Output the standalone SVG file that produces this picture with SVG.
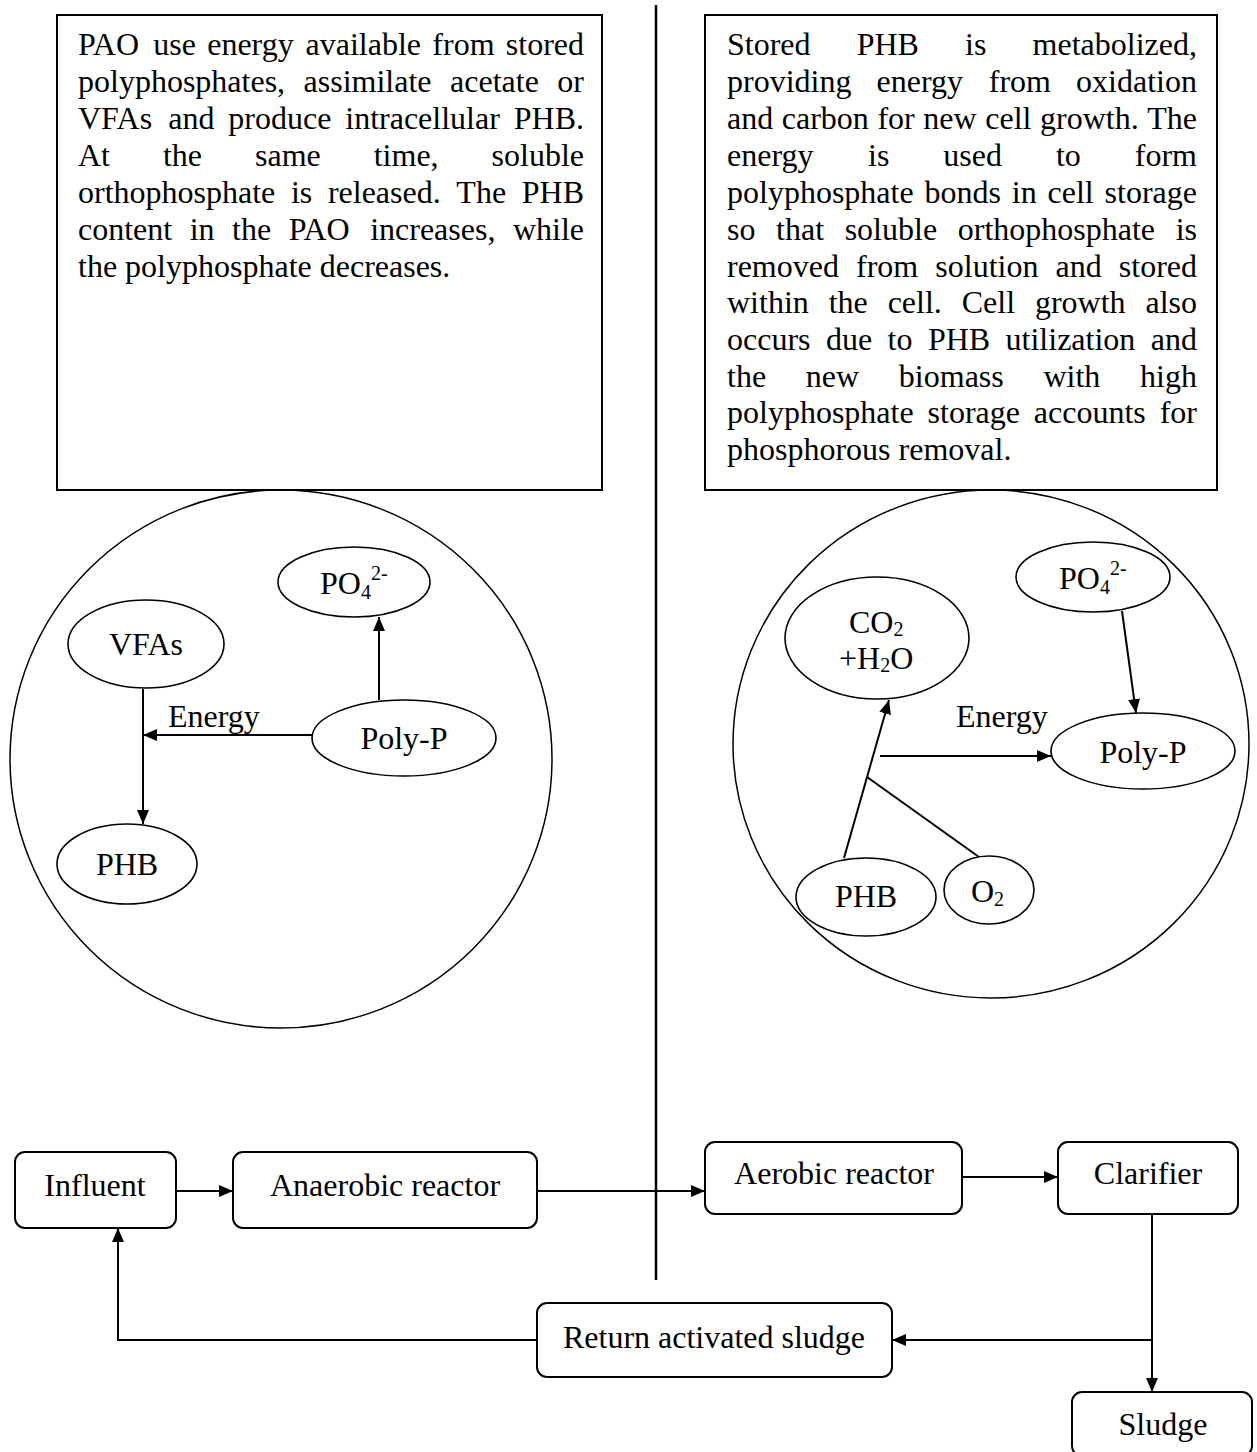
<svg xmlns="http://www.w3.org/2000/svg" width="1257" height="1452" viewBox="0 0 1257 1452">
<style>
text{font-family:"Liberation Serif","Times New Roman",serif;font-size:32px;fill:#000}
.c{text-anchor:middle}
.box{fill:#fff;stroke:#000;stroke-width:2}
.node{fill:#fff;stroke:#000;stroke-width:1.6}
.cell{fill:none;stroke:#000;stroke-width:1.5}
.ln{fill:none;stroke:#000;stroke-width:2}
.sm{font-size:20px}
</style>
<defs>
<marker id="arr" markerWidth="14" markerHeight="12" refX="14" refY="6" orient="auto" markerUnits="userSpaceOnUse"><path d="M0,0 L14,6 L0,12 z" fill="#000"/></marker>
</defs>
<rect width="1257" height="1452" fill="#fff"/>
<line x1="656" y1="5" x2="656" y2="1280" stroke="#000" stroke-width="2.5"/>
<g id="text-anaerobic">
<rect class="box" x="57" y="15" width="545" height="475"/>
<text y="55"><tspan x="78">PAO</tspan><tspan x="153.27">use</tspan><tspan x="207.2">energy</tspan><tspan x="305.54">available</tspan><tspan x="432.33">from</tspan><tspan x="505.81">stored</tspan></text>
<text y="92"><tspan x="78">polyphosphates,</tspan><tspan x="303.57">assimilate</tspan><tspan x="450.04">acetate</tspan><tspan x="557.34">or</tspan></text>
<text y="129"><tspan x="78">VFAs</tspan><tspan x="168.3">and</tspan><tspan x="228.36">produce</tspan><tspan x="345.28">intracellular</tspan><tspan x="513.75">PHB.</tspan></text>
<text y="166"><tspan x="78">At</tspan><tspan x="162.95">the</tspan><tspan x="255">same</tspan><tspan x="373.71">time,</tspan><tspan x="491.56">soluble</tspan></text>
<text y="203"><tspan x="78">orthophosphate</tspan><tspan x="290.94">is</tspan><tspan x="327.91">released.</tspan><tspan x="456.37">The</tspan><tspan x="521.76">PHB</tspan></text>
<text y="240"><tspan x="78">content</tspan><tspan x="189.69">in</tspan><tspan x="232.07">the</tspan><tspan x="288.65">PAO</tspan><tspan x="370.13">increases,</tspan><tspan x="512.89">while</tspan></text>
<text x="78" y="277">the polyphosphate decreases.</text>
</g>
<g id="text-aerobic">
<rect class="box" x="705" y="15" width="512" height="475"/>
<text y="55"><tspan x="727">Stored</tspan><tspan x="856.7">PHB</tspan><tspan x="965.09">is</tspan><tspan x="1032.58">metabolized,</tspan></text>
<text y="92"><tspan x="727">providing</tspan><tspan x="876.57">energy</tspan><tspan x="988.76">from</tspan><tspan x="1076.09">oxidation</tspan></text>
<text y="129"><tspan x="727">and</tspan><tspan x="781.79">carbon</tspan><tspan x="877.44">for</tspan><tspan x="923.33">new</tspan><tspan x="985.22">cell</tspan><tspan x="1040.01">growth.</tspan><tspan x="1147.25">The</tspan></text>
<text y="166"><tspan x="727">energy</tspan><tspan x="868.03">is</tspan><tspan x="943.33">used</tspan><tspan x="1055.95">to</tspan><tspan x="1134.81">form</tspan></text>
<text y="203"><tspan x="727">polyphosphate</tspan><tspan x="924.5">bonds</tspan><tspan x="1011.79">in</tspan><tspan x="1047.53">cell</tspan><tspan x="1104.58">storage</tspan></text>
<text y="240"><tspan x="727">so</tspan><tspan x="776.06">that</tspan><tspan x="844.67">soluble</tspan><tspan x="957.73">orthophosphate</tspan><tspan x="1175.65">is</tspan></text>
<text y="277"><tspan x="727">removed</tspan><tspan x="856.04">from</tspan><tspan x="935.32">solution</tspan><tspan x="1055.53">and</tspan><tspan x="1118.81">stored</tspan></text>
<text y="313"><tspan x="727">within</tspan><tspan x="828.66">the</tspan><tspan x="887.63">cell.</tspan><tspan x="961.71">Cell</tspan><tspan x="1034.92">growth</tspan><tspan x="1145.45">also</tspan></text>
<text y="350"><tspan x="727">occurs</tspan><tspan x="825.95">due</tspan><tspan x="887.59">to</tspan><tspan x="927.92">PHB</tspan><tspan x="1005.59">utilization</tspan><tspan x="1150.81">and</tspan></text>
<text y="387"><tspan x="727">the</tspan><tspan x="805.82">new</tspan><tspan x="898.85">biomass</tspan><tspan x="1043.47">with</tspan><tspan x="1140.09">high</tspan></text>
<text y="423"><tspan x="727">polyphosphate</tspan><tspan x="927.54">storage</tspan><tspan x="1033.84">accounts</tspan><tspan x="1159.69">for</tspan></text>
<text x="727" y="460">phosphorous removal.</text>
</g>
<g id="cell-anaerobic">
<ellipse class="cell" cx="281" cy="759" rx="271" ry="269"/>
</g>
<g id="cell-aerobic">
<ellipse class="cell" cx="991" cy="744" rx="258" ry="254"/>
</g>
<g id="connectors">
<line class="ln" x1="379" y1="700" x2="379" y2="617" marker-end="url(#arr)"/>
<line class="ln" x1="143" y1="689" x2="143" y2="824" marker-end="url(#arr)"/>
<line class="ln" x1="312" y1="735" x2="143" y2="735" marker-end="url(#arr)"/>
<line class="ln" x1="844" y1="858" x2="889" y2="700" marker-end="url(#arr)"/>
<line class="ln" x1="979" y1="857" x2="867" y2="777"/>
<line class="ln" x1="880" y1="756" x2="1051" y2="756" marker-end="url(#arr)"/>
<line class="ln" x1="1122" y1="611" x2="1136" y2="713" marker-end="url(#arr)"/>
<line class="ln" x1="176" y1="1191" x2="233" y2="1191" marker-end="url(#arr)"/>
<line class="ln" x1="537" y1="1191" x2="705" y2="1191" marker-end="url(#arr)"/>
<line class="ln" x1="962" y1="1177" x2="1058" y2="1177" marker-end="url(#arr)"/>
<line class="ln" x1="1152" y1="1214" x2="1152" y2="1392" marker-end="url(#arr)"/>
<line class="ln" x1="1152" y1="1340" x2="892" y2="1340" marker-end="url(#arr)"/>
<polyline class="ln" points="537,1340 118,1340 118,1228" marker-end="url(#arr)"/>
</g>
<g id="l-po4">
<ellipse class="node" cx="354" cy="582" rx="76" ry="35"/>
<text x="320" y="594">PO<tspan class="sm" dy="5">4</tspan><tspan class="sm" dy="-19">2-</tspan></text>
</g>
<g id="l-vfas">
<ellipse class="node" cx="146" cy="644" rx="78" ry="44"/>
<text class="c" x="146" y="655">VFAs</text>
</g>
<g id="l-polyp">
<ellipse class="node" cx="404" cy="738" rx="92" ry="38"/>
<text class="c" x="404" y="749">Poly-P</text>
</g>
<g id="l-phb">
<ellipse class="node" cx="127" cy="864" rx="70" ry="40"/>
<text class="c" x="127" y="875">PHB</text>
</g>
<text x="168" y="727">Energy</text>
<g id="r-po4">
<ellipse class="node" cx="1093" cy="577" rx="77" ry="35"/>
<text x="1059" y="589">PO<tspan class="sm" dy="5">4</tspan><tspan class="sm" dy="-19">2-</tspan></text>
</g>
<g id="r-co2">
<ellipse class="node" cx="877" cy="638" rx="92" ry="61"/>
<text x="849" y="633">CO<tspan class="sm" dy="3">2</tspan></text>
<text x="839" y="669">+H<tspan class="sm" dy="3">2</tspan><tspan dy="-3">O</tspan></text>
</g>
<g id="r-polyp">
<ellipse class="node" cx="1143" cy="751" rx="92" ry="38"/>
<text class="c" x="1143" y="763">Poly-P</text>
</g>
<g id="r-phb">
<ellipse class="node" cx="866" cy="897" rx="70" ry="39"/>
<text class="c" x="866" y="907">PHB</text>
</g>
<g id="r-o2">
<ellipse class="node" cx="989" cy="890" rx="45" ry="34"/>
<text x="971" y="902">O<tspan class="sm" dy="4">2</tspan></text>
</g>
<text x="956" y="727">Energy</text>
<g id="influent">
<rect class="box" x="15" y="1152" width="161" height="76" rx="10"/>
<text class="c" x="95" y="1196">Influent</text>
</g>
<g id="anaerobic">
<rect class="box" x="233" y="1152" width="304" height="76" rx="10"/>
<text class="c" x="385" y="1196">Anaerobic reactor</text>
</g>
<g id="aerobic">
<rect class="box" x="705" y="1142" width="257" height="72" rx="10"/>
<text class="c" x="834" y="1184">Aerobic reactor</text>
</g>
<g id="clarifier">
<rect class="box" x="1058" y="1142" width="180" height="72" rx="10"/>
<text class="c" x="1148" y="1184">Clarifier</text>
</g>
<g id="return">
<rect class="box" x="537" y="1303" width="355" height="74" rx="10"/>
<text class="c" x="714" y="1348">Return activated sludge</text>
</g>
<g id="sludge">
<rect class="box" x="1072" y="1392" width="180" height="64" rx="10"/>
<text class="c" x="1163" y="1435">Sludge</text>
</g>
</svg>
